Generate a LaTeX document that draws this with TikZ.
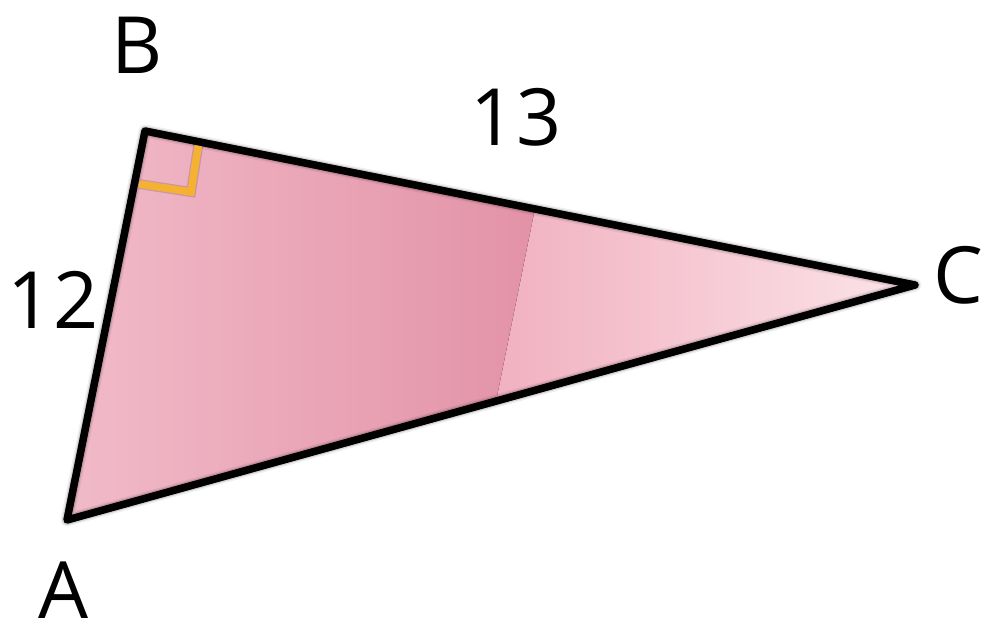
\documentclass[tikz,border=0pt]{standalone}
\usepackage{fontspec}
\setmainfont{Open Sans}
\definecolor{pinkA}{HTML}{F2BDCB}
\definecolor{pinkB}{HTML}{E290A5}
\definecolor{pinkC}{HTML}{F0ADBD}
\definecolor{pinkD}{HTML}{FCE6EB}
\definecolor{markorange}{HTML}{F5B232}
\begin{document}
\begin{tikzpicture}[x=1pt,y=-1pt,
  lbl/.style={font=\fontsize{79}{86}\selectfont, inner sep=0pt, text=black},
  edge/.style={line width=7.5pt, line join=round, draw=black},
  shade/.style={line join=round, draw=black}]
\useasboundingbox (0,0) rectangle (984,632);
\coordinate (B) at (145,131);
\coordinate (C) at (915,285);
\coordinate (A) at (67,520);
% fill
\begin{scope}
  \clip (A) -- (B) -- (C) -- cycle;
  \fill[left color=pinkA, right color=pinkB] (40,100) -- (559,100) -- (468,550) -- (40,550) -- cycle;
  \fill[left color=pinkC, right color=pinkD] (557,100) -- (930,100) -- (930,550) -- (466,550) -- cycle;
\end{scope}
% shadow
\draw[shade, line width=13pt, opacity=0.06, shift={(3,5)}] (A) -- (B) -- (C) -- cycle;
\draw[shade, line width=10pt, opacity=0.12, shift={(3,5)}] (A) -- (B) -- (C) -- cycle;
\draw[shade, line width=7pt, opacity=0.25, shift={(3,4)}] (A) -- (B) -- (C) -- cycle;
% right angle mark
\coordinate (M1) at (139,184);
\coordinate (M2) at (191,192);
\coordinate (M3) at (199,141);
\draw[line width=10pt, black, opacity=0.15, shift={(2,3)}] (M1) -- (M2) -- (M3);
\draw[line width=7.5pt, markorange, line join=miter] (M1) -- (M2) -- (M3);
% triangle
\draw[edge] (A) -- (B) -- (C) -- cycle;
% labels
\node[lbl] (lB) at (137,45) {B};
\node[lbl] (lC) at (958,275) {C};
\node[lbl] (lA) at (63,590) {A};
\node[lbl] (l13) at (516,117) {13};
\node[lbl] (l12) at (53,300) {12};
\end{tikzpicture}
\end{document}
